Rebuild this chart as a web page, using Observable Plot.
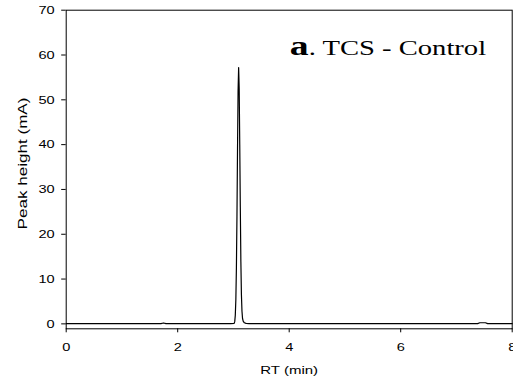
<!DOCTYPE html>
<html><head><meta charset="utf-8">
<script src="https://cdn.jsdelivr.net/npm/d3@7"></script>
<script src="https://cdn.jsdelivr.net/npm/@observablehq/plot@0.6"></script>
<style>
body{margin:0;background:#fff;overflow:hidden}
</style>
</head><body><div id="chart"></div>
<script>
// Retention time (min) and detector signal (mA)
const rt = [0, 1.70, 1.745, 1.79, 2.95, 3.013, 3.023, 3.033, 3.043, 3.053, 3.063, 3.073, 3.083, 3.093,
            3.103, 3.113, 3.123, 3.133, 3.143, 3.153, 3.163, 3.176, 3.196, 3.226, 3.28, 7.38, 7.42, 7.52, 7.56, 8.0];
const mA = [0.05, 0.05, 0.2, 0.05, 0.05, 0.1, 0.5, 1.9, 5.4, 12.5, 24, 39, 52, 57.2,
            52.5, 40, 26, 14, 6.5, 2.8, 1.2, 0.55, 0.25, 0.1, 0.05, 0.05, 0.25, 0.25, 0.05, 0.05];
const xTicks = [0, 2, 4, 6, 8];
const yTicks = [0, 10, 20, 30, 40, 50, 60, 70];
const xLabel = "RT (min)";
const yLabel = "Peak height (mA)";
const panelLetter = "a";
const panelTitle = ". TCS - Control";

const data = rt.map((t, i) => ({rt: t, mA: mA[i]}));

const plot = Plot.plot({
  width: 513, height: 381,
  marginLeft: 65.7, marginRight: 1.3, marginTop: 9.7, marginBottom: 52.7,
  style: {fontFamily: "'Liberation Sans', Arial, sans-serif", fontSize: "11.5px", background: "white", color: "black", overflow: "visible"},
  x: {domain: [0, 8]},
  y: {domain: [-1.1, 70]},
  marks: [
    Plot.frame({stroke: "black"}),
    Plot.axisY({ticks: yTicks, tickSize: 4.5, tickPadding: 7, label: null}),
    Plot.axisX({ticks: xTicks, tickSize: 4, tickPadding: 10, label: null}),
    Plot.line(data, {x: "rt", y: "mA", stroke: "black", strokeWidth: 1.2}),
    Plot.text([xLabel], {frameAnchor: "bottom", textAnchor: "middle", lineAnchor: "middle", dy: 41, fontSize: 11.6}),
    Plot.text([yLabel], {frameAnchor: "left", textAnchor: "middle", lineAnchor: "middle", rotate: -90, dx: -43.5, dy: -6, fontSize: 12.5})
  ]
});
document.getElementById("chart").appendChild(plot);

const svg = d3.select(plot);
const sx = plot.scale("x"), sy = plot.scale("y");

// stretch text horizontally as in the reference
plot.querySelectorAll("text").forEach(t => {
  const s = t.textContent;
  const tr = t.getAttribute("transform") || "";
  let k = 1.27;
  if (s === xLabel) k = 58 / t.getBBox().width;
  else if (s === yLabel) k = 132 / t.getBBox().width;
  t.setAttribute("transform", tr + ` scale(${k},1)`);
});

// panel title
const title = svg.append("text")
  .attr("font-family", "'Liberation Serif', 'Times New Roman', serif")
  .attr("text-anchor", "start")
  .attr("fill", "black");
title.append("tspan").attr("font-weight", "bold").attr("font-size", 27).text(panelLetter);
title.append("tspan").attr("font-size", 20.5).text(panelTitle);
const w = title.node().getBBox().width;
const x0 = sx.apply(4.02), y0 = sy.apply(60);
title.attr("transform", `translate(${x0},${y0}) scale(${(486.7 - x0) / w},1)`);
</script>
</body></html>
